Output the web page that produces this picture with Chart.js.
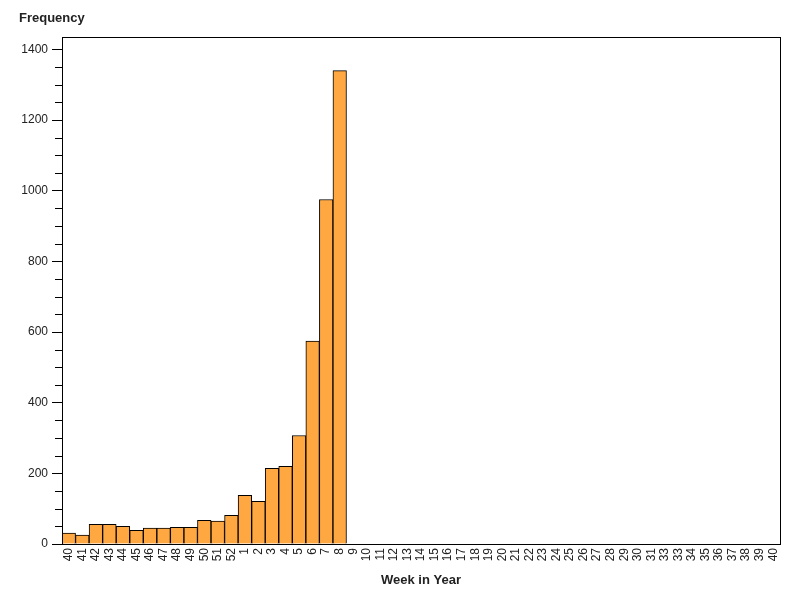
<!DOCTYPE html>
<html>
<head>
<meta charset="utf-8">
<script src="https://cdn.jsdelivr.net/npm/chart.js@4/dist/chart.umd.min.js"></script>
<style>
  html, body { margin: 0; padding: 0; background: #fff; }
  #wrap { width: 800px; height: 600px; }
</style>
</head>
<body>
<div id="wrap"><canvas id="chart"></canvas></div>
<script>
// неделя года (подписи как на картинке)
const weeks = ['40','41','42','43','44','45','46','47','48','49','50','51','52',
  '1','2','3','4','5','6','7','8','9','10','11','12','13','14','15','16','17','18','19','20',
  '21','22','23','24','25','26','27','28','29','30','31','33','33','34','35','36','37','38','39','40'];

// частота по неделям
const frequency = [31, 25, 56, 56, 50, 39, 45, 45, 47, 47, 67, 65, 81,
  138, 121, 214, 220, 307, 574, 975, 1340, 0, 0, 0, 0, 0, 0, 0, 0, 0, 0, 0, 0,
  0, 0, 0, 0, 0, 0, 0, 0, 0, 0, 0, 0, 0, 0, 0, 0, 0, 0, 0, 0];

const yMajorTicks = [0, 200, 400, 600, 800, 1000, 1200, 1400];
const yMinorStep = 50;
const yMax = 1435;

const FONT = '"Liberation Sans", Arial, sans-serif';

// рамка вокруг области графика, мелкие засечки и подпись оси Y
const framePlugin = {
    id: 'frame',
    afterDraw(chart) {
        const ctx = chart.ctx;
        const a = chart.chartArea;
        const y = chart.scales.y;
        ctx.save();
        ctx.strokeStyle = '#000';
        ctx.lineWidth = 1;
        ctx.strokeRect(Math.round(a.left) + 0.5, Math.round(a.top) + 0.5,
            Math.round(a.right - a.left), Math.round(a.bottom - a.top));
        // мелкие засечки
        ctx.beginPath();
        for (let v = 0; v <= yMax; v += yMinorStep) {
            if (v % 200 === 0) continue;
            const py = Math.round(y.getPixelForValue(v)) + 0.5;
            ctx.moveTo(a.left - 7, py);
            ctx.lineTo(a.left, py);
        }
        ctx.stroke();
        ctx.fillStyle = '#222';
        ctx.font = 'bold 13px ' + FONT;
        ctx.textBaseline = 'middle';
        ctx.textAlign = 'left';
        ctx.fillText('Frequency', 19, 18);
        ctx.restore();
    }
};

new Chart(document.getElementById('chart'), {
    type: 'bar',
    data: {
        labels: weeks,
        datasets: [{
            label: 'Frequency',
            data: frequency,
            backgroundColor: '#FFA740',
            borderColor: '#000',
            borderWidth: 1,
            borderSkipped: 'bottom',
            categoryPercentage: 1.0,
            barPercentage: 1.0
        }]
    },
    options: {
        responsive: true,
        maintainAspectRatio: false,
        animation: false,
        layout: { padding: { top: 37, right: 20, left: 0, bottom: 0 } },
        plugins: {
            legend: { display: false },
            tooltip: { enabled: false }
        },
        scales: {
            x: {
                grid: { display: false, drawTicks: false },
                border: { display: false },
                ticks: {
                    color: '#222',
                    font: { family: FONT, size: 12 },
                    autoSkip: false,
                    minRotation: 90,
                    maxRotation: 90,
                    padding: 4
                },
                title: {
                    display: true,
                    text: 'Week in Year',
                    color: '#222',
                    font: { family: FONT, size: 13, weight: 'bold' },
                    padding: { top: 0, bottom: 12 }
                },
                afterFit(scale) { scale.height = 56; }
            },
            y: {
                min: 0,
                max: yMax,
                grid: {
                    drawOnChartArea: false,
                    drawTicks: true,
                    tickLength: 10,
                    tickColor: '#000'
                },
                border: { display: false },
                ticks: {
                    color: '#222',
                    font: { family: FONT, size: 12 },
                    padding: 4,
                    callback: v => String(v)
                },
                afterBuildTicks(scale) {
                    scale.ticks = yMajorTicks.map(v => ({ value: v }));
                },
                afterFit(scale) { scale.width = 62; }
            }
        }
    },
    plugins: [framePlugin]
});
</script>
</body>
</html>
